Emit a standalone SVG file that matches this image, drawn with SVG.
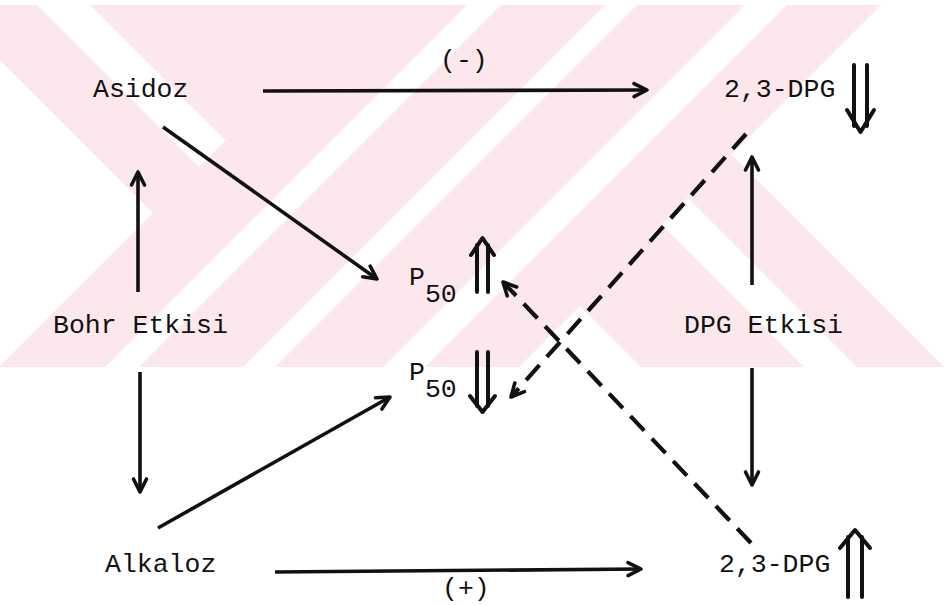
<svg xmlns="http://www.w3.org/2000/svg" width="944" height="605" viewBox="0 0 944 605">
<style>
.lbl{font-family:"Liberation Mono","DejaVu Sans Mono",monospace;font-size:26.5px;fill:#111}
.c{fill:none;stroke:#111;stroke-width:3.6;stroke-linecap:butt}
.d{fill:none;stroke:#111;stroke-width:4.2;stroke-dasharray:20 11}
.dbl{fill:none;stroke:#111;stroke-width:4;stroke-linecap:round;stroke-linejoin:round}
.wm{fill:#fce8ec}
</style>
<defs>
<clipPath id="wmclip"><rect x="0" y="5" width="944" height="362"/></clipPath>
<marker id="ah" markerUnits="userSpaceOnUse" markerWidth="30" markerHeight="30" viewBox="-20 -15 30 30" refX="0" refY="0" orient="auto" overflow="visible">
<path d="M-13,-6.5 L0,0 L-13,6.5" fill="none" stroke="#111" stroke-width="3.6" stroke-linecap="round" stroke-linejoin="round"/>
</marker>
</defs>
<rect width="944" height="605" fill="#fff"/>
<g id="watermark" clip-path="url(#wmclip)">
<polygon class="wm" points="90,5 361,5 225.5,140.5"/>
<polygon class="wm" points="-68,-100 199,167 153,213 -160,-100"/>
<polygon class="wm" points="466,-100 572,-100 -28,500 -134,500"/>
<polygon class="wm" points="606,-100 710,-100 110,500 6,500"/>
<polygon class="wm" points="742,-100 850,-100 250,500 142,500"/>
<polygon class="wm" points="892,-100 986,-100 386,500 292,500"/>
<polygon class="wm" points="580,306 661.5,224.5 937,500 774,500"/>
<polygon class="wm" points="688,198 731.5,154.5 1077,500 990,500"/>
</g>
<g id="connectors">
<path class="c" d="M263,91 L647,90" marker-end="url(#ah)"/>
<path class="c" d="M163,127 L377,279" marker-end="url(#ah)"/>
<path class="c" d="M138,292 L138,172" marker-end="url(#ah)"/>
<path class="c" d="M140,372 L140,492" marker-end="url(#ah)"/>
<path class="c" d="M158,528 L390,397" marker-end="url(#ah)"/>
<path class="c" d="M275,572 L641,569" marker-end="url(#ah)"/>
<path class="c" d="M752,285 L752,157" marker-end="url(#ah)"/>
<path class="c" d="M752,368 L752,485" marker-end="url(#ah)"/>
<path class="d" d="M746,134 L511,397" marker-end="url(#ah)"/>
<path class="d" d="M751,543 L503,282" marker-end="url(#ah)"/>
</g>
<g id="asidoz"><text class="lbl" x="93" y="97">Asidoz</text></g>
<g id="dpg-top"><text class="lbl" x="724" y="97">2,3-DPG</text>
<path class="dbl" d="M854,65 L854,126 M867,65 L867,126 M847,110 L860.5,132 L874,110"/></g>
<g id="label-minus"><text class="lbl" x="440" y="68">(-)</text></g>
<g id="bohr"><text class="lbl" x="53" y="333">Bohr Etkisi</text></g>
<g id="dpg-etkisi"><text class="lbl" x="684" y="333">DPG Etkisi</text></g>
<g id="p50-up"><text class="lbl" x="409" y="285">P<tspan dy="17">50</tspan></text>
<path class="dbl" d="M477,292 L477,245 M488,292 L488,245 M471,255 L482.5,238 L494,255"/></g>
<g id="p50-down"><text class="lbl" x="409" y="380">P<tspan dy="17">50</tspan></text>
<path class="dbl" d="M477,352 L477,406 M488,352 L488,406 M470,396 L482.5,412 L495,396"/></g>
<g id="alkaloz"><text class="lbl" x="105" y="572">Alkaloz</text></g>
<g id="dpg-bottom"><text class="lbl" x="719" y="572">2,3-DPG</text>
<path class="dbl" d="M848,597 L848,537 M862,597 L862,537 M840,548 L855,530 L870,548"/></g>
<g id="label-plus"><text class="lbl" x="442" y="596">(+)</text></g>
</svg>
